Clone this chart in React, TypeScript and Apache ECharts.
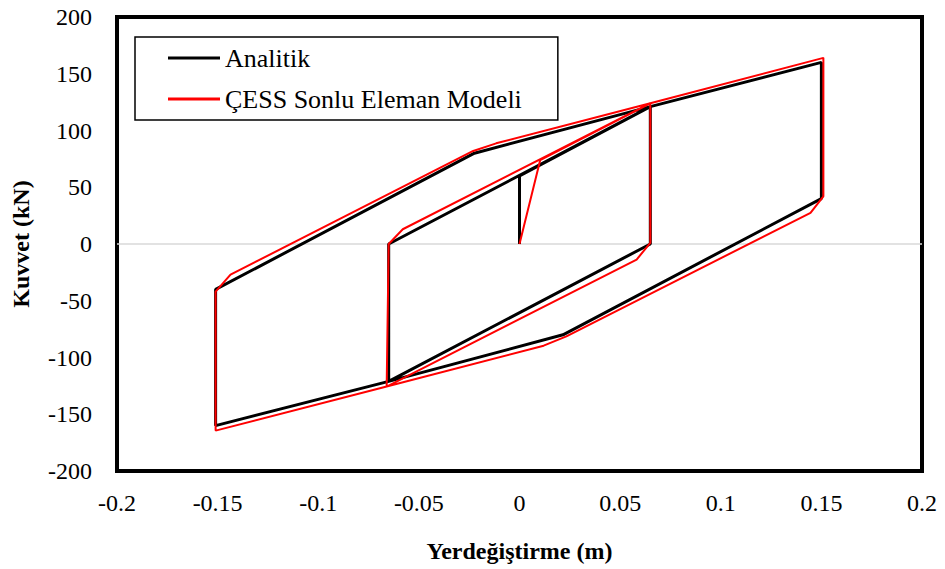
import React, { useEffect, useRef } from "react";
import * as echarts from "echarts";

const xTicks = { min: -0.2, max: 0.2, interval: 0.05 };
const yTicks = { min: -200, max: 200, interval: 50 };

const analitikX = [0, 0, 0.065, 0.065, -0.065, -0.065, 0.065, 0.15, 0.15, 0.0216, -0.065, -0.151, -0.151, -0.0224, 0.065, 0.15];
const analitikY = [0, 60, 121, 0, -121, 0, 121, 160, 40, -80, -121, -160, -40, 80, 121, 160];

const cessX = [0, 0.0103, 0.065, 0.065, 0.0582, -0.066, -0.065, -0.058, 0.065, 0.151, 0.151, 0.1446, 0.0233, 0.012, -0.066, -0.151, -0.151, -0.1436, -0.023, -0.0116, 0.065, 0.151];
const cessY = [0, 74, 124, 1, -13.7, -125.6, 0, 13, 124, 164, 42, 27.5, -81.4, -89.6, -125.6, -164.4, -42, -27, 82, 88.7, 124, 164];

const seriesNames = ["Analitik", "ÇESS Sonlu Eleman Modeli"];

const zip = (xs: number[], ys: number[]) => xs.map((x, i) => [x, ys[i]]);

const FONT = "Liberation Serif";

export default function App() {
  const ref = useRef<HTMLDivElement>(null);
  useEffect(() => {
    if (!ref.current) return;
    const chart = echarts.init(ref.current, undefined, { renderer: "svg" });
    chart.setOption({
      animation: false,
      backgroundColor: "#fff",
      textStyle: { fontFamily: FONT },
      grid: {
        left: 117,
        right: 23,
        top: 17,
        bottom: 98,
        outerBoundsMode: "none",
        show: true,
        borderColor: "#000",
        borderWidth: 4,
        backgroundColor: "transparent",
      },
      legend: {
        show: true,
        orient: "vertical",
        left: 135,
        top: 37,
        padding: [6, 36, 6, 33],
        itemGap: 11,
        itemWidth: 52,
        itemHeight: 3,
        icon: "rect",
        borderColor: "#000",
        borderWidth: 1.5,
        backgroundColor: "#fff",
        data: seriesNames,
        textStyle: { fontFamily: FONT, fontSize: 26, color: "#000", lineHeight: 30 },
      },
      xAxis: {
        type: "value",
        min: xTicks.min,
        max: xTicks.max,
        interval: xTicks.interval,
        name: "Yerdeğiştirme (m)",
        nameLocation: "middle",
        nameGap: 68,
        nameTextStyle: { fontFamily: FONT, fontSize: 24, fontWeight: "bold", color: "#000" },
        axisLine: { show: false },
        axisTick: { show: false },
        splitLine: { show: false },
        axisLabel: { fontFamily: FONT, fontSize: 24, color: "#000", margin: 20 },
      },
      yAxis: {
        type: "value",
        min: yTicks.min,
        max: yTicks.max,
        interval: yTicks.interval,
        name: "Kuvvet (kN)",
        nameLocation: "middle",
        nameGap: 84,
        nameRotate: 90,
        nameTextStyle: { fontFamily: FONT, fontSize: 24, fontWeight: "bold", color: "#000" },
        axisLine: { show: false },
        axisTick: { show: false },
        splitLine: { show: false },
        axisLabel: { fontFamily: FONT, fontSize: 24, color: "#000", margin: 25 },
      },
      series: [
        {
          name: seriesNames[0],
          type: "line",
          data: zip(analitikX, analitikY),
          showSymbol: false,
          symbol: "none",
          color: "#000",
          lineStyle: { color: "#000", width: 3 },
          z: 3,
          markLine: {
            silent: true,
            symbol: "none",
            label: { show: false },
            lineStyle: { color: "#d9d9d9", width: 1.5, type: "solid" },
            data: [{ yAxis: 0 }],
            z: 1,
          },
        },
        {
          name: seriesNames[1],
          type: "line",
          data: zip(cessX, cessY),
          showSymbol: false,
          symbol: "none",
          color: "#ff0000",
          lineStyle: { color: "#ff0000", width: 2 },
          z: 4,
        },
      ],
    });
    return () => chart.dispose();
  }, []);
  return (
    <div
      ref={ref}
      style={{ position: "fixed", left: 0, top: 0, width: 945, height: 569, background: "#fff" }}
    />
  );
}
